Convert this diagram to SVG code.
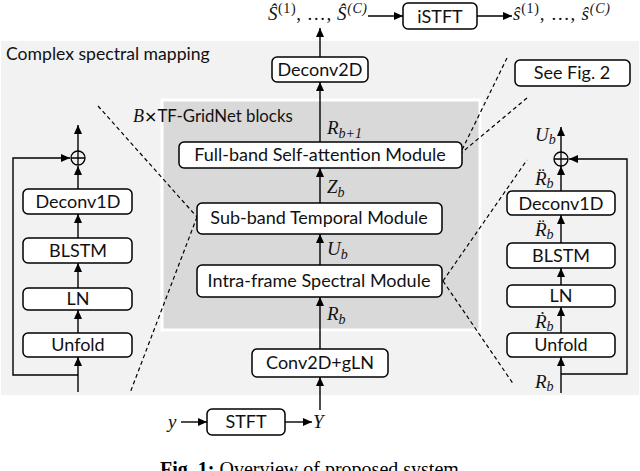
<svg xmlns="http://www.w3.org/2000/svg" width="640" height="471" viewBox="0 0 640 471">
<defs>
<marker id="ah" markerUnits="userSpaceOnUse" markerWidth="10" markerHeight="8" refX="9" refY="4" orient="auto">
<path d="M0,0 L9,4 L0,8 z" fill="#000"/>
</marker>
</defs>
<style>
.bx{fill:#fff;stroke:#000;stroke-width:1.5}
.lb{font-family:Lato,"Liberation Sans",sans-serif;font-size:18px;fill:#111;text-anchor:middle}
.tt{font-family:Lato,"Liberation Sans",sans-serif;font-size:17.6px;fill:#111}
.m{font-family:"Liberation Serif",serif;font-style:italic;font-size:19px;fill:#111}
.sb{font-size:14px}
.ln{fill:none;stroke:#000;stroke-width:1.4}
.ar{fill:none;stroke:#000;stroke-width:1.4;marker-end:url(#ah)}
.ds{fill:none;stroke:#000;stroke-width:1.2;stroke-dasharray:4 3}
.cap{font-family:"Liberation Serif",serif;font-size:20px;fill:#000}
</style>
<rect x="1" y="41" width="638" height="354" fill="#f2f2f2"/>
<rect x="162" y="100" width="318" height="230" fill="#d9d9d9" stroke="#fff" stroke-width="3"/>
<text class="tt" x="6" y="60">Complex spectral mapping</text>
<text x="133" y="122"><tspan class="m" style="font-size:18px">B</tspan><tspan style="font-family:'DejaVu Sans',sans-serif;font-size:16px">×</tspan><tspan class="tt" style="font-size:16.8px">TF-GridNet blocks</tspan></text>

<g id="connectors">
<line class="ar" x1="320" y1="57" x2="320" y2="28"/>
<line class="ar" x1="368" y1="16" x2="403" y2="16"/>
<line class="ar" x1="477" y1="16" x2="512" y2="16"/>
<line class="ar" x1="320" y1="142" x2="320" y2="82"/>
<line class="ar" x1="320" y1="203" x2="320" y2="168"/>
<line class="ar" x1="320" y1="265" x2="320" y2="234"/>
<line class="ar" x1="320" y1="349" x2="320" y2="297"/>
<line class="ar" x1="320" y1="410" x2="320" y2="377"/>
<line class="ar" x1="181" y1="422" x2="207" y2="422"/>
<line class="ar" x1="285" y1="422" x2="312" y2="422"/>
<line class="ar" x1="78" y1="392" x2="78" y2="357"/>
<line class="ar" x1="78" y1="333" x2="78" y2="310"/>
<line class="ar" x1="78" y1="288" x2="78" y2="263"/>
<line class="ar" x1="78" y1="238" x2="78" y2="214"/>
<line class="ar" x1="78" y1="189" x2="78" y2="166"/>
<line class="ar" x1="78" y1="151" x2="78" y2="125"/>
<polyline class="ar" points="78,375 13,375 13,158 70,158"/>
<line class="ar" x1="561" y1="393" x2="561" y2="357"/>
<line class="ar" x1="561" y1="333" x2="561" y2="307"/>
<line class="ar" x1="561" y1="285" x2="561" y2="268"/>
<line class="ar" x1="561" y1="243" x2="561" y2="215"/>
<line class="ar" x1="561" y1="191" x2="561" y2="166"/>
<line class="ar" x1="561" y1="152" x2="561" y2="127"/>
<polyline class="ar" points="561,374 627,374 627,159 569,159"/>
<line class="ds" x1="507" y1="58" x2="460" y2="154"/>
<line class="ds" x1="527" y1="98" x2="460" y2="154"/>
<line class="ds" x1="98" y1="106" x2="197" y2="217"/>
<line class="ds" x1="197" y1="217" x2="130" y2="393"/>
<line class="ds" x1="443" y1="281" x2="527" y2="160"/>
<line class="ds" x1="443" y1="281" x2="514" y2="385"/>
</g>

<g id="istft"><rect class="bx" x="403" y="3" width="74" height="26" rx="5"/><text class="lb" x="440" y="23">iSTFT</text></g>
<g id="deconv2d"><rect class="bx" x="272" y="57" width="96" height="25" rx="5"/><text class="lb" x="320" y="76">Deconv2D</text></g>
<g id="seefig2"><rect class="bx" x="515" y="60" width="115" height="26" rx="5"/><text class="lb" x="572" y="79">See Fig. 2</text></g>
<g id="fullband"><rect class="bx" x="179" y="142" width="283" height="26" rx="5"/><text class="lb" x="320" y="161">Full-band Self-attention Module</text></g>
<g id="subband"><rect class="bx" x="197" y="203" width="245" height="31" rx="5"/><text class="lb" x="319" y="224">Sub-band Temporal Module</text></g>
<g id="intraframe"><rect class="bx" x="197" y="265" width="245" height="32" rx="5"/><text class="lb" x="319" y="287">Intra-frame Spectral Module</text></g>
<g id="conv2d"><rect class="bx" x="252" y="349" width="136" height="28" rx="5"/><text class="lb" x="320" y="369">Conv2D+gLN</text></g>
<g id="stft"><rect class="bx" x="207" y="409" width="78" height="26" rx="5"/><text class="lb" x="246" y="428">STFT</text></g>

<g id="left-deconv1d"><rect class="bx" x="23" y="189" width="109" height="25" rx="5"/><text class="lb" x="78" y="208">Deconv1D</text></g>
<g id="left-blstm"><rect class="bx" x="23" y="238" width="109" height="25" rx="5"/><text class="lb" x="78" y="257">BLSTM</text></g>
<g id="left-ln"><rect class="bx" x="23" y="288" width="109" height="22" rx="5"/><text class="lb" x="78" y="305">LN</text></g>
<g id="left-unfold"><rect class="bx" x="23" y="333" width="109" height="24" rx="5"/><text class="lb" x="78" y="351">Unfold</text></g>
<g id="left-sum"><circle cx="78" cy="158" r="7" fill="none" stroke="#000" stroke-width="1.3"/><path d="M71,158 H85 M78,151 V165" stroke="#000" stroke-width="1.3"/></g>

<g id="right-deconv1d"><rect class="bx" x="507" y="191" width="108" height="24" rx="5"/><text class="lb" x="561" y="210">Deconv1D</text></g>
<g id="right-blstm"><rect class="bx" x="507" y="243" width="108" height="25" rx="5"/><text class="lb" x="561" y="262">BLSTM</text></g>
<g id="right-ln"><rect class="bx" x="507" y="285" width="108" height="22" rx="5"/><text class="lb" x="561" y="302">LN</text></g>
<g id="right-unfold"><rect class="bx" x="507" y="333" width="108" height="24" rx="5"/><text class="lb" x="561" y="351">Unfold</text></g>
<g id="right-sum"><circle cx="561" cy="159" r="7" fill="none" stroke="#000" stroke-width="1.3"/><path d="M554,159 H568 M561,152 V166" stroke="#000" stroke-width="1.3"/></g>

<g id="labels">
<text class="m" x="268" y="20" textLength="99">Ŝ<tspan class="sb" dy="-7" style="font-style:normal">(1)</tspan><tspan dy="7" style="font-style:normal">, …, </tspan>Ŝ<tspan class="sb" dy="-7">(C)</tspan></text>
<text class="m" x="513" y="20" textLength="97">ŝ<tspan class="sb" dy="-7" style="font-style:normal">(1)</tspan><tspan dy="7" style="font-style:normal">, …, </tspan>ŝ<tspan class="sb" dy="-7">(C)</tspan></text>
<text class="m" x="327" y="134">R<tspan class="sb" dy="4">b+1</tspan></text>
<text class="m" x="327" y="193">Z<tspan class="sb" dy="4">b</tspan></text>
<text class="m" x="327" y="255">U<tspan class="sb" dy="4">b</tspan></text>
<text class="m" x="327" y="320">R<tspan class="sb" dy="4">b</tspan></text>
<text class="m" x="168" y="428">y</text>
<text class="m" x="313" y="428">Y</text>
<text class="m" x="535" y="141">U<tspan class="sb" dy="3">b</tspan></text>
<text class="m" x="535" y="185">R̈<tspan class="sb" dy="3">b</tspan></text>
<text class="m" x="535" y="236">R̈<tspan class="sb" dy="3">b</tspan></text>
<text class="m" x="535" y="328">Ṙ<tspan class="sb" dy="3">b</tspan></text>
<text class="m" x="535" y="388">R<tspan class="sb" dy="3">b</tspan></text>
</g>
<text class="cap" x="160" y="476"><tspan font-weight="bold">Fig. 1:</tspan> Overview of proposed system.</text>
</svg>
